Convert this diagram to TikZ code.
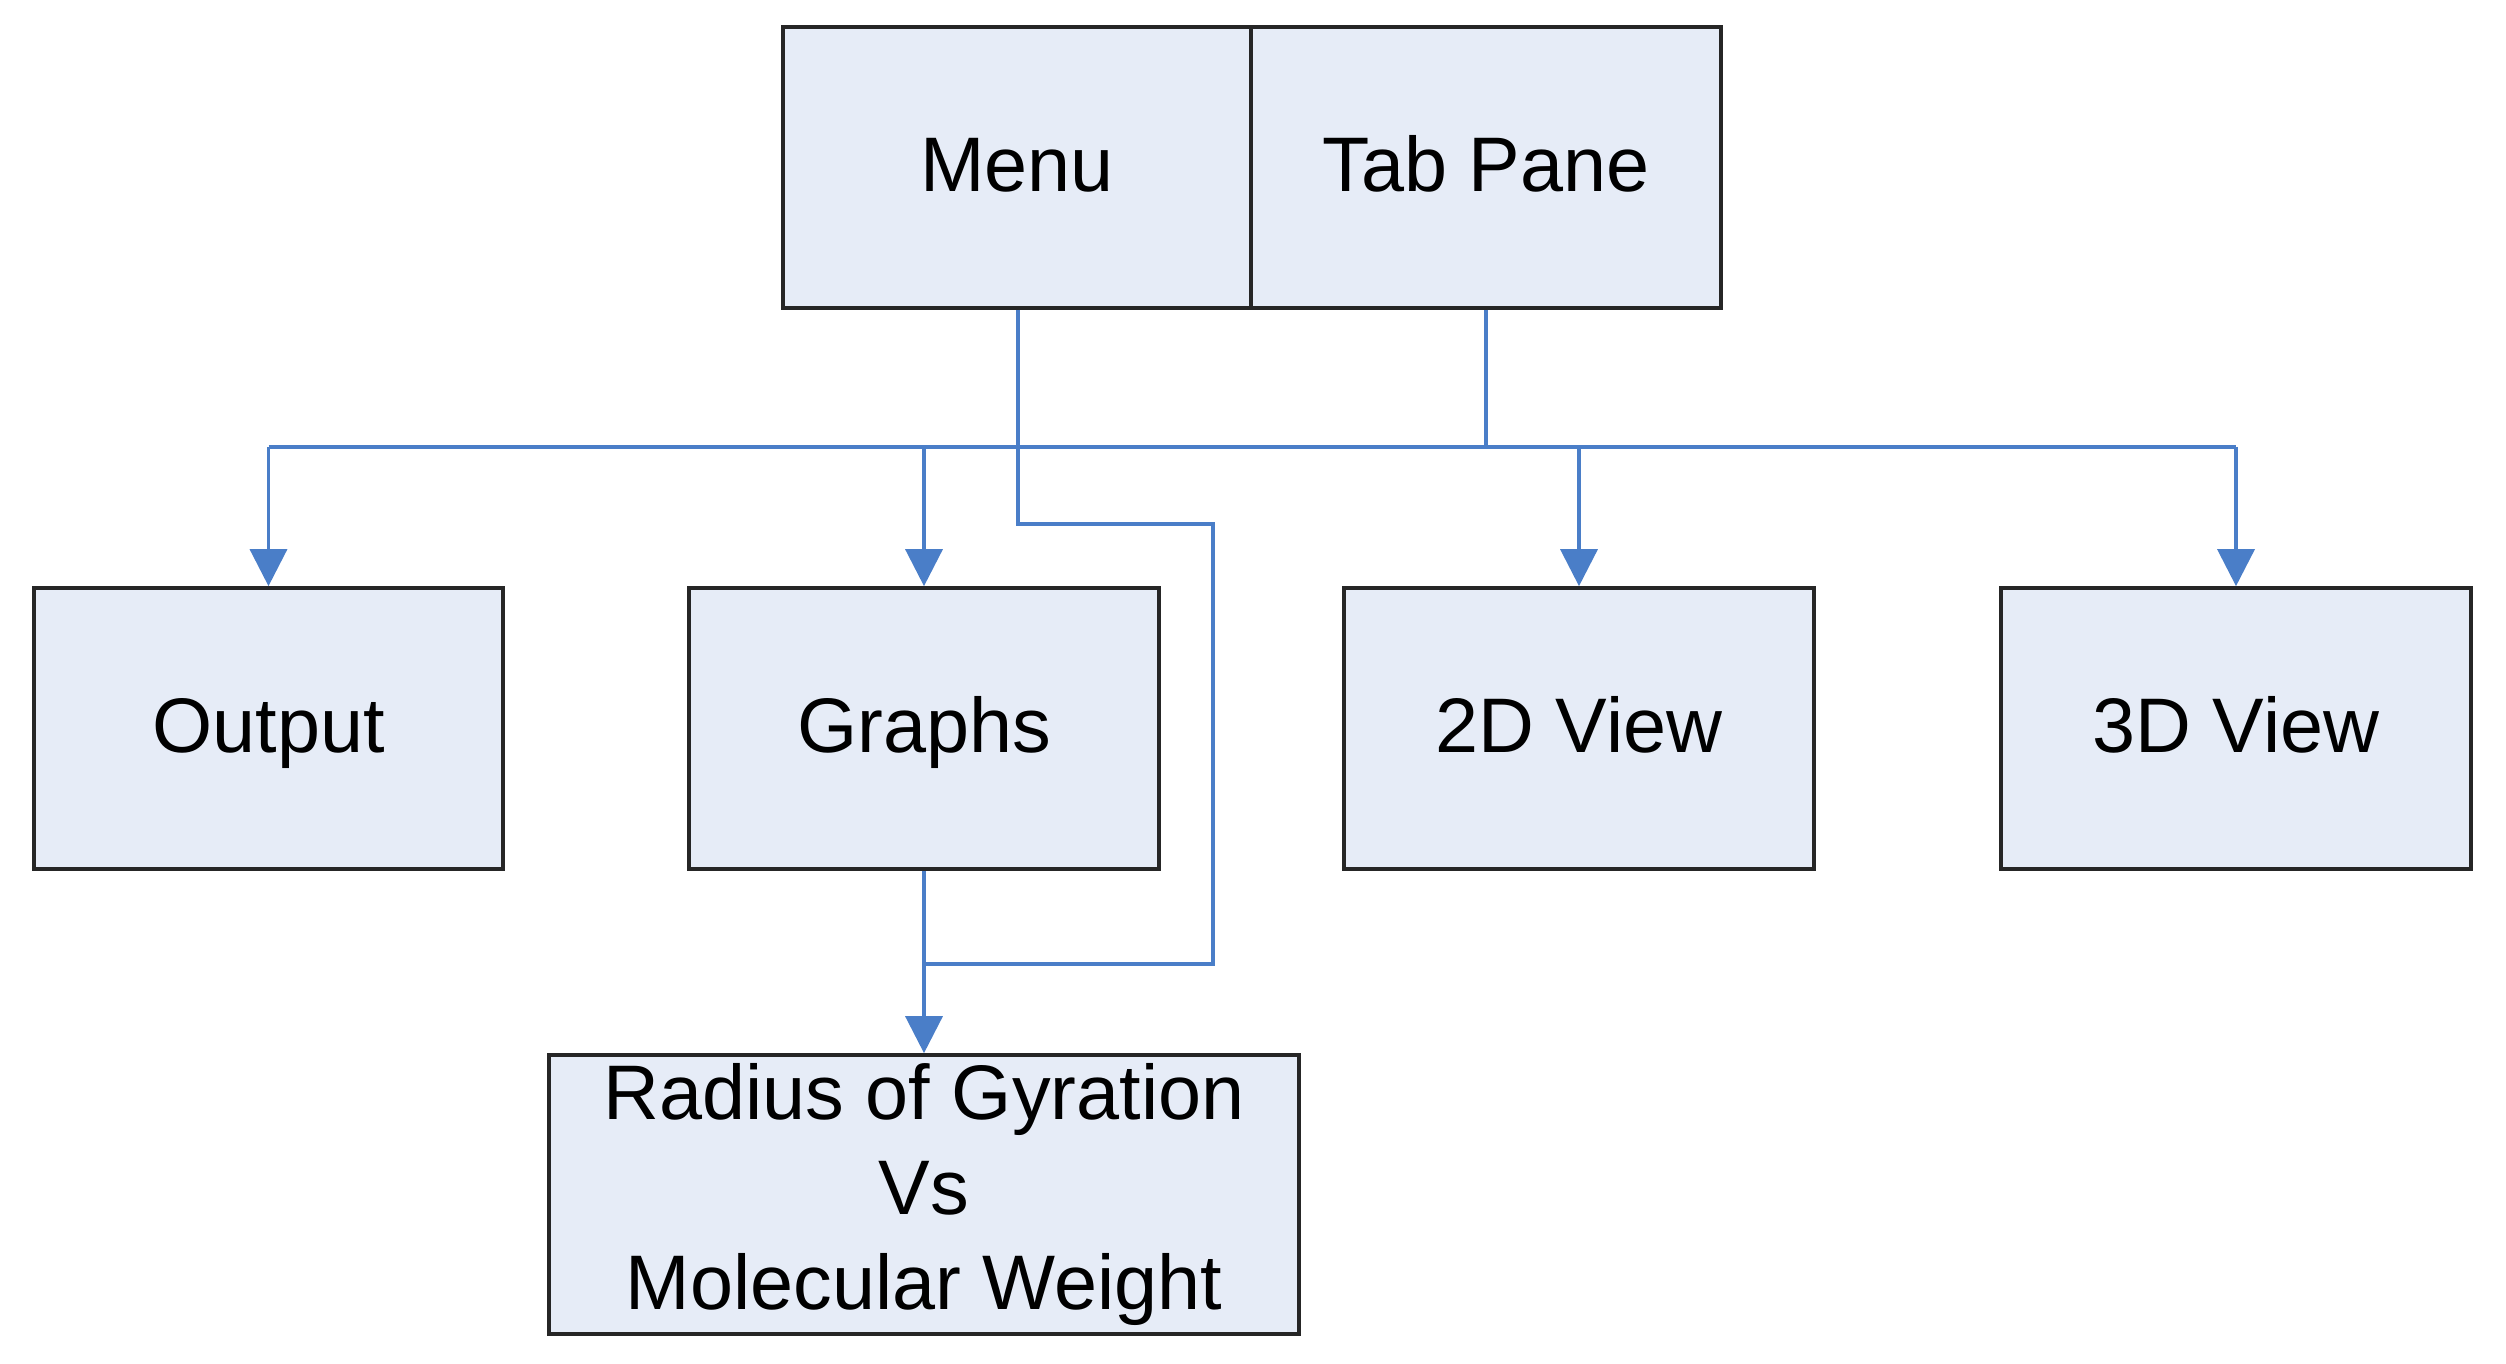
\documentclass[tikz,border=0pt]{standalone}
\usepackage{fontspec}
\setmainfont{Liberation Sans}
\usetikzlibrary{arrows.meta}
\definecolor{boxfill}{RGB}{230,236,247}
\definecolor{linkblue}{RGB}{74,126,200}
\begin{document}
\begin{tikzpicture}[x=0.01cm,y=-0.01cm,
  box/.style={draw=black!85, line width=1pt, fill=boxfill, rectangle, inner sep=0pt,
    minimum height=2.81cm, font=\fontsize{22}{27}\selectfont, text=black},
  onebox/.style={box, text height=0.62cm, text depth=0.15cm},
  link/.style={draw=linkblue, line width=1pt},
  arr/.style={link, -{Triangle[width=0.37cm,length=0.37cm]}}]
\useasboundingbox (0,0) rectangle (2506,1364);
\fill[white] (0,0) rectangle (2506,1364);
\node[onebox, minimum width=4.68cm] (menu) at (1017,167.5) {Menu};
\node[onebox, minimum width=4.70cm] (tab) at (1486,167.5) {Tab Pane};
\node[onebox, minimum width=4.69cm] (output) at (268.5,728.5) {Output};
\node[onebox, minimum width=4.70cm] (graphs) at (924,728.5) {Graphs};
\node[onebox, minimum width=4.70cm] (view2) at (1579,728.5) {2D View};
\node[onebox, minimum width=4.70cm] (view3) at (2236,728.5) {3D View};
\node[box, minimum width=7.50cm, minimum height=2.79cm, align=center] (radius) at (924,1194.5)
  {Radius of Gyration\\Vs\\Molecular Weight};
\coordinate (bus) at (1486,447);
\coordinate (busL) at (output.north |- bus);
\coordinate (busG) at (graphs.north |- bus);
\coordinate (bus2) at (view2.north |- bus);
\coordinate (busR) at (view3.north |- bus);
\coordinate (m1) at (1018,524);
\coordinate (m2) at (1213,524);
\coordinate (m3) at (1213,964);
\coordinate (join) at (graphs.south |- m3);
\draw[link] (tab.south) -- (bus);
\draw[link] (busL) -- (busR);
\draw[arr] (busL) -- (output.north);
\draw[arr] (busG) -- (graphs.north);
\draw[arr] (bus2) -- (view2.north);
\draw[arr] (busR) -- (view3.north);
\draw[link] (menu.south -| m1) -- (m1) -- (m2) -- (m3) -- (join);
\draw[arr] (graphs.south) -- (radius.north);
\end{tikzpicture}
\end{document}
